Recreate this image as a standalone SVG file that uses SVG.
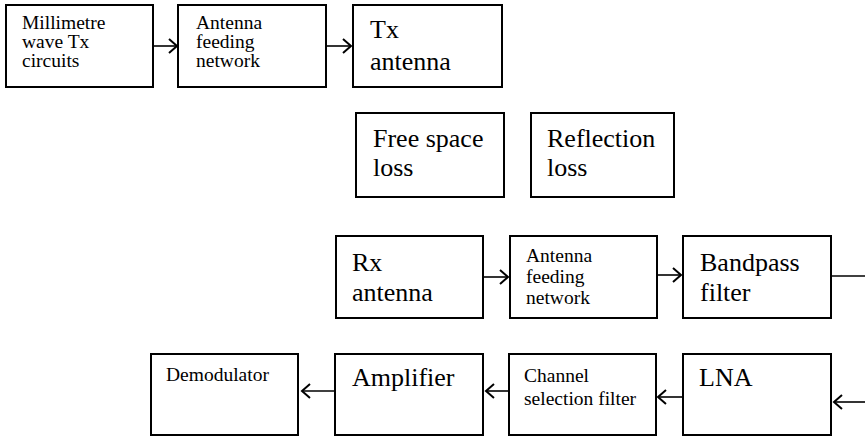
<svg xmlns="http://www.w3.org/2000/svg" width="865" height="437" viewBox="0 0 865 437">
<defs>
<marker id="arr" markerUnits="userSpaceOnUse" markerWidth="12" markerHeight="18" refX="9" refY="8" orient="auto">
<path d="M1,1 L9,8 L1,15" fill="none" stroke="#000" stroke-width="2"/>
</marker>
<style>
.box{fill:#fff;stroke:#000;stroke-width:2}
.s{font-family:"Liberation Serif",serif;font-size:19.5px;fill:#000}
.b{font-family:"Liberation Serif",serif;font-size:26px;fill:#000}
.c{fill:none;stroke:#000;stroke-width:1.6}
</style>
</defs>
<rect width="865" height="437" fill="#fff"/>
<g id="connectors">
<line class="c" x1="153" y1="46" x2="177" y2="46" marker-end="url(#arr)"/>
<line class="c" x1="326" y1="46" x2="351" y2="46" marker-end="url(#arr)"/>
<line class="c" x1="483" y1="277" x2="508" y2="277" marker-end="url(#arr)"/>
<line class="c" x1="657" y1="275" x2="681" y2="275" marker-end="url(#arr)"/>
<line class="c" x1="831" y1="276" x2="865" y2="276"/>
<line class="c" x1="865" y1="402" x2="834" y2="402" marker-end="url(#arr)"/>
<line class="c" x1="683" y1="397" x2="658" y2="397" marker-end="url(#arr)"/>
<line class="c" x1="509" y1="391" x2="486" y2="391" marker-end="url(#arr)"/>
<line class="c" x1="335" y1="391" x2="302" y2="391" marker-end="url(#arr)"/>
</g>
<g id="tx-circuits"><rect class="box" x="6" y="5" width="147" height="82"/>
<text class="s"><tspan x="22" y="29">Millimetre</tspan><tspan x="22" y="48">wave Tx</tspan><tspan x="22" y="67">circuits</tspan></text></g>
<g id="tx-feeding"><rect class="box" x="178" y="5" width="148" height="82"/>
<text class="s"><tspan x="196" y="29">Antenna</tspan><tspan x="196" y="48">feeding</tspan><tspan x="196" y="67">network</tspan></text></g>
<g id="tx-antenna"><rect class="box" x="353" y="5" width="149" height="82"/>
<text class="b"><tspan x="370" y="38">Tx</tspan><tspan x="370" y="70">antenna</tspan></text></g>
<g id="free-space"><rect class="box" x="356" y="113" width="148" height="84"/>
<text class="b"><tspan x="373" y="147">Free space</tspan><tspan x="373" y="176">loss</tspan></text></g>
<g id="reflection"><rect class="box" x="531" y="113" width="143" height="84"/>
<text class="b"><tspan x="547" y="147">Reflection</tspan><tspan x="547" y="176">loss</tspan></text></g>
<g id="rx-antenna"><rect class="box" x="336" y="236" width="147" height="82"/>
<text class="b"><tspan x="352" y="271">Rx</tspan><tspan x="352" y="301">antenna</tspan></text></g>
<g id="rx-feeding"><rect class="box" x="510" y="236" width="147" height="82"/>
<text class="s"><tspan x="526" y="262">Antenna</tspan><tspan x="526" y="283">feeding</tspan><tspan x="526" y="304">network</tspan></text></g>
<g id="bandpass"><rect class="box" x="683" y="236" width="148" height="82"/>
<text class="b"><tspan x="700" y="271">Bandpass</tspan><tspan x="700" y="301">filter</tspan></text></g>
<g id="lna"><rect class="box" x="683" y="354" width="148" height="81"/>
<text class="b" x="699" y="386">LNA</text></g>
<g id="channel"><rect class="box" x="509" y="354" width="147" height="81"/>
<text class="s"><tspan x="524" y="382">Channel</tspan><tspan x="524" y="405">selection filter</tspan></text></g>
<g id="amplifier"><rect class="box" x="335" y="354" width="148" height="81"/>
<text class="b" x="352" y="386">Amplifier</text></g>
<g id="demodulator"><rect class="box" x="151" y="354" width="147" height="81"/>
<text class="s" x="166" y="381">Demodulator</text></g>
</svg>
